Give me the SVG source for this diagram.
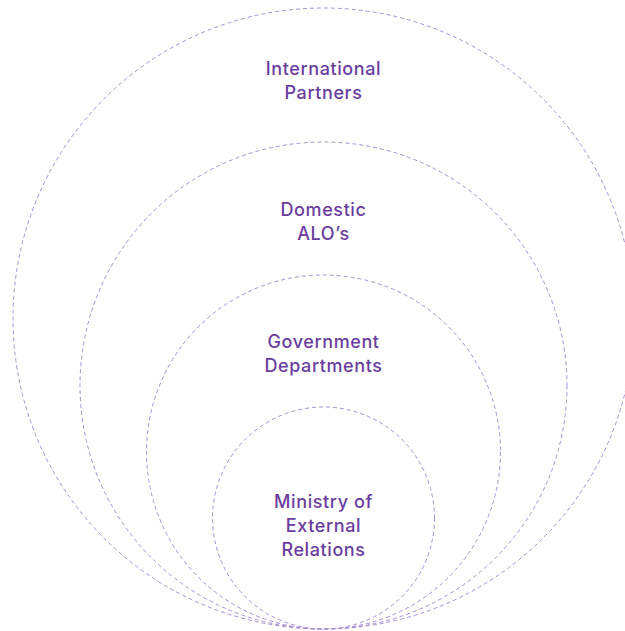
<svg xmlns="http://www.w3.org/2000/svg" width="625" height="631" viewBox="0 0 625 631">
<style>
.ring{fill:none;stroke:#a68fd0;stroke-width:1;stroke-dasharray:4 3}
.lbl{font-family:Inter,"Open Sans","Liberation Sans",sans-serif;font-size:18px;font-weight:500;letter-spacing:0.6px;fill:#6a3d9e;text-anchor:middle}
</style>
<rect width="625" height="631" fill="#ffffff"/>
<g id="connectors"></g>
<g id="international-partners">
<circle class="ring" cx="323.5" cy="318.5" r="310.5"/>
<text class="lbl" x="323.5" y="75">International</text>
<text class="lbl" x="323.5" y="98.5">Partners</text>
</g>
<g id="domestic-alos">
<circle class="ring" cx="323.5" cy="385.5" r="243.5"/>
<text class="lbl" x="323.5" y="216">Domestic</text>
<text class="lbl" x="323.5" y="240">ALO’s</text>
</g>
<g id="government-departments">
<circle class="ring" cx="323.5" cy="452" r="177"/>
<text class="lbl" x="323.5" y="348">Government</text>
<text class="lbl" x="323.5" y="372">Departments</text>
</g>
<g id="ministry-external-relations">
<circle class="ring" cx="323.5" cy="518" r="111"/>
<text class="lbl" x="323.5" y="508">Ministry of</text>
<text class="lbl" x="323.5" y="532">External</text>
<text class="lbl" x="323.5" y="556">Relations</text>
</g>
</svg>
